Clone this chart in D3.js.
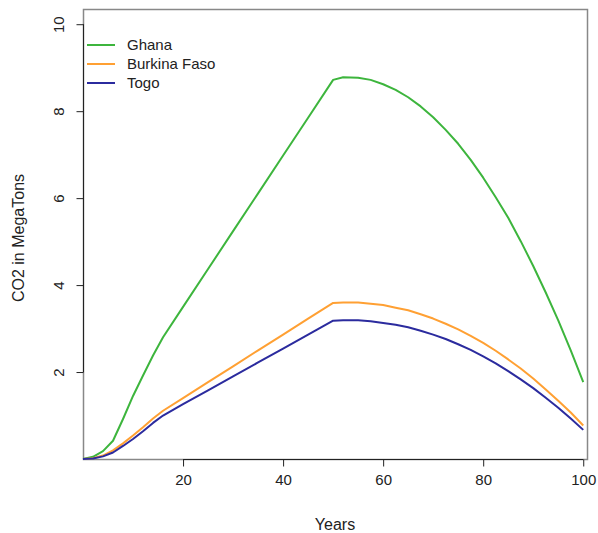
<!DOCTYPE html>
<html>
<head>
<meta charset="utf-8">
<script src="https://cdn.jsdelivr.net/npm/d3@7"></script>
<style>
  body { margin: 0; background: #fff; }
  svg { display: block; font-family: "Liberation Sans", Arial, sans-serif; }
</style>
</head>
<body>
<div id="chart"></div>
<script>
// Data (years vs CO2 in megatons)
var years = [0, 2, 4, 6, 8, 10, 12, 14, 16, 20, 25, 30, 35, 40, 45, 50, 52, 55, 57.5, 60, 62.5, 65, 67.5, 70, 72.5, 75, 77.5, 80, 82.5, 85, 87.5, 90, 92.5, 95, 97.5, 100];
var ghana = [0, 0.05, 0.18, 0.42, 0.92, 1.45, 1.92, 2.38, 2.8, 3.5, 4.37, 5.24, 6.11, 6.98, 7.85, 8.72, 8.78, 8.77, 8.72, 8.62, 8.49, 8.32, 8.11, 7.86, 7.57, 7.25, 6.88, 6.47, 6.02, 5.55, 5.01, 4.44, 3.83, 3.19, 2.5, 1.77];
var burkina = [0, 0.02, 0.08, 0.2, 0.36, 0.54, 0.73, 0.93, 1.11, 1.4, 1.77, 2.13, 2.5, 2.86, 3.23, 3.59, 3.6, 3.6, 3.57, 3.54, 3.48, 3.42, 3.33, 3.23, 3.11, 2.98, 2.83, 2.67, 2.49, 2.29, 2.08, 1.85, 1.6, 1.34, 1.07, 0.77];
var togo = [0, 0.01, 0.06, 0.15, 0.3, 0.46, 0.64, 0.83, 1.0, 1.26, 1.58, 1.9, 2.22, 2.54, 2.86, 3.18, 3.19, 3.19, 3.17, 3.13, 3.09, 3.03, 2.95, 2.86, 2.76, 2.64, 2.51, 2.36, 2.2, 2.02, 1.83, 1.63, 1.41, 1.18, 0.93, 0.67];
var seriesNames = ["Ghana", "Burkina Faso", "Togo"];
var xTicks = [20, 40, 60, 80, 100];
var yTicks = [2, 4, 6, 8, 10];

var colors = ["#3db53d", "#ffa033", "#2b2b9e"];
var seriesVals = [ghana, burkina, togo];

var W = 598, H = 533;
var box = {left: 83, right: 587, top: 9, bottom: 459};

var x = d3.scaleLinear().domain([0, 100.75]).range([box.left, box.right]);
var y = d3.scaleLinear().domain([0, 10.35]).range([box.bottom, box.top]);

var svg = d3.select("#chart").append("svg")
  .attr("width", W)
  .attr("height", H);

// plot box
svg.append("rect")
  .attr("x", box.left + 0.5)
  .attr("y", box.top + 0.5)
  .attr("width", box.right - box.left)
  .attr("height", box.bottom - box.top)
  .attr("fill", "none")
  .attr("stroke", "#888")
  .attr("stroke-width", 1.5);

// lines
var line = d3.line()
  .x(function(d, i){ return x(years[i]); })
  .y(function(d){ return y(d); });

seriesVals.forEach(function(vals, k){
  svg.append("path")
    .datum(vals)
    .attr("d", line)
    .attr("fill", "none")
    .attr("stroke", colors[k])
    .attr("stroke-width", 2)
    .attr("stroke-linejoin", "round");
});

// x axis
var xAxis = svg.append("g")
  .attr("transform", "translate(0," + (box.bottom + 0.5) + ")")
  .call(d3.axisBottom(x).tickValues(xTicks).tickSize(7).tickPadding(8).tickSizeOuter(0));
xAxis.select(".domain")
  .attr("d", "M" + x(xTicks[0]) + ",0H" + x(xTicks[xTicks.length - 1]))
  .attr("stroke", "#222");
xAxis.selectAll("text").attr("font-size", 15).attr("fill", "#222").attr("font-family", "Liberation Sans, Arial, sans-serif");
xAxis.selectAll("line").attr("stroke", "#222");

// y axis
var yAxis = svg.append("g")
  .attr("transform", "translate(" + (box.left + 0.5) + ",0)")
  .call(d3.axisLeft(y).tickValues(yTicks).tickSize(7).tickSizeOuter(0));
yAxis.select(".domain")
  .attr("d", "M0," + y(yTicks[0]) + "V" + y(yTicks[yTicks.length - 1]))
  .attr("stroke", "#222");
yAxis.selectAll("line").attr("stroke", "#222");
yAxis.selectAll("text")
  .attr("x", null).attr("dy", null)
  .attr("text-anchor", "middle")
  .attr("transform", "translate(-20,0) rotate(-90)")
  .attr("font-size", 15)
  .attr("fill", "#222")
  .attr("font-family", "Liberation Sans, Arial, sans-serif");

// axis titles
svg.append("text")
  .attr("x", (box.left + box.right) / 2)
  .attr("y", 530)
  .attr("text-anchor", "middle")
  .attr("font-size", 16)
  .attr("fill", "#222")
  .text("Years");

svg.append("text")
  .attr("transform", "translate(24," + ((box.top + box.bottom) / 2 + 4) + ") rotate(-90)")
  .attr("text-anchor", "middle")
  .attr("font-size", 16)
  .attr("fill", "#222")
  .text("CO2 in MegaTons");

// legend
var legend = svg.append("g").attr("transform", "translate(87,45)");
legend.selectAll("line")
  .data(seriesNames)
  .enter()
  .append("line")
  .attr("x1", 0).attr("x2", 28)
  .attr("y1", function(d, i){ return i * 19; })
  .attr("y2", function(d, i){ return i * 19; })
  .attr("stroke", function(d, i){ return colors[i]; })
  .attr("stroke-width", 2);
legend.selectAll("text")
  .data(seriesNames)
  .enter()
  .append("text")
  .attr("x", 40)
  .attr("y", function(d, i){ return i * 19 + 5; })
  .attr("font-size", 15)
  .attr("fill", "#222")
  .text(function(d){ return d; });
</script>
</body>
</html>
